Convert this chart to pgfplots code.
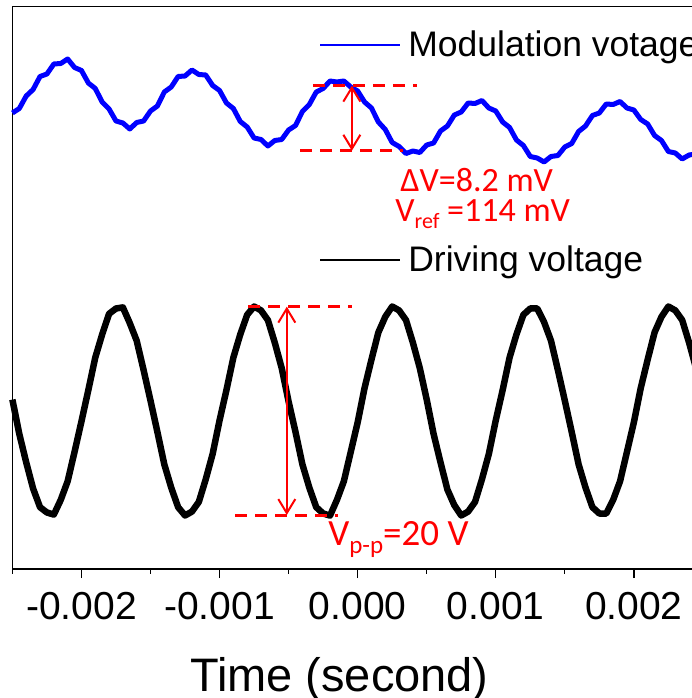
\documentclass[border=0pt]{standalone}
\usepackage{pgfplots}
\pgfplotsset{compat=1.18}
\usepackage{pgfplotstable}
\usetikzlibrary{arrows.meta}
\usepackage{fontspec}
\setmainfont{Liberation Sans}
\newfontfamily\calfont{Carlito}
\pgfplotstableread{
t mod drv
-0.00250 456 169.4
-0.00245 460.5 135
-0.00240 473 106.6
-0.00235 479.5 80.4
-0.00230 492.5 61.8
-0.00225 495 56.5
-0.00220 505 54.4
-0.00215 505.5 69.1
-0.00210 510 87.7
-0.00205 501.5 117.1
-0.00200 498.5 147.6
-0.00195 486 179
-0.00190 480.5 211.4
-0.00185 467 234.6
-0.00180 460 255.2
-0.00175 448 260.5
-0.00170 446 261.6
-0.00165 440 245.9
-0.00160 446.5 228.3
-0.00155 448 198.9
-0.00150 458 168.4
-0.00145 463 137
-0.00140 477 104.6
-0.00135 482 81.4
-0.00130 492.5 61.8
-0.00125 493 53.5
-0.00120 499 57.4
-0.00115 494.5 67.1
-0.00110 494 89.7
-0.00105 483.5 115.1
-0.00100 478.5 148.6
-0.00095 466 179
-0.00090 460.5 211.4
-0.00085 447.5 234.6
-0.00080 442 254.2
-0.00075 431 262.5
-0.00070 429.5 258.6
-0.00065 423 248.9
-0.00060 428.5 226.3
-0.00055 429.5 200.9
-0.00050 439 167.4
-0.00045 443.5 137
-0.00040 457.5 104.6
-0.00035 464.5 81.4
-0.00030 477 61.8
-0.00025 480.5 55.5
-0.00020 488 53.4
-0.00015 487 69.1
-0.00010 488 87.7
-0.00005 482 117.1
0.00000 478 146.6
0.00005 467 181
0.00010 461 209.4
0.00015 447 236.6
0.00020 439.5 252.2
0.00025 426.5 262.5
0.00030 422.5 258.6
0.00035 415.5 248.9
0.00040 418 226.3
0.00045 416.5 200.9
0.00050 424 169.4
0.00055 426 135
0.00060 438 106.6
0.00065 443 79.4
0.00070 454 63.8
0.00075 457 53.5
0.00080 466 57.4
0.00085 465.5 67.1
0.00090 468.5 89.7
0.00095 461 115.1
0.00100 458 148.6
0.00105 447 179
0.00110 441.5 211.4
0.00115 429 234.6
0.00120 423.5 254.2
0.00125 412.5 260.5
0.00130 411 260.6
0.00135 407 246.9
0.00140 412.5 228.3
0.00145 413.5 198.9
0.00150 422 168.4
0.00155 425.5 137
0.00160 437.5 104.6
0.00165 443 81.4
0.00170 453.5 61.8
0.00175 456 55.5
0.00180 465 55.4
0.00185 464.5 69.1
0.00190 467.5 87.7
0.00195 461 117.1
0.00200 459 146.6
0.00205 449.5 181
0.00210 445 209.4
0.00215 433.5 236.6
0.00220 428.5 252.2
0.00225 417.5 262.5
0.00230 416 258.6
0.00235 410 248.9
0.00240 414 226.3
0.00245 415 200.9
}\datatable
\begin{document}
\begin{tikzpicture}
\useasboundingbox (-12.4pt,-129pt) rectangle (679.6pt,569pt);
\clip (-12.4pt,-129pt) rectangle (679.6pt,569pt);
\begin{axis}[
  at={(0pt,0pt)}, anchor=south west, scale only axis,
  width=690.5pt, height=562.3pt,
  xmin=-0.0025, xmax=0.0025, ymin=0, ymax=562.3,
  scaled x ticks=false,
  xtick={-0.002,-0.001,0,0.001,0.002},
  xticklabels={-0.002,-0.001,0.000,0.001,0.002},
  minor xtick={-0.0025,-0.0015,-0.0005,0.0005,0.0015,0.0025},
  ytick=\empty,
  xtick pos=lower, tick align=outside,
  major tick length=9pt, minor tick length=4.5pt,
  tick style={black, line width=1.3pt},
  axis line style={line width=1.5pt},
  xticklabel style={font=\fontsize{39}{39}\selectfont, anchor=base, yshift=-41pt},
  xlabel={Time (second)},
  xlabel style={font=\fontsize{47}{47}\selectfont, at={(axis description cs:0.4735,0)}, anchor=base, yshift=-122pt},
  clip=false,
]
\addplot[blue, line width=5pt, line join=round] table[x=t,y=mod] {\datatable};
\addplot[black, line width=6.5pt, line join=round] table[x=t,y=drv] {\datatable};
% legend entries
\draw[blue, line width=2pt] (axis cs:-0.0002715,524) -- (axis cs:0.0003077,524);
\node[anchor=base west, inner sep=0pt, font=\fontsize{35.5}{35.5}\selectfont] at (axis cs:0.0003657,512) {Modulation votage};
\draw[black, line width=2pt] (axis cs:-0.0002715,309) -- (axis cs:0.0003077,309);
\node[anchor=base west, inner sep=0pt, font=\fontsize{35.5}{35.5}\selectfont] at (axis cs:0.0003657,297) {Driving voltage};
% annotations
\draw[red, line width=3pt, dash pattern=on 12pt off 8pt] (axis cs:-0.000324,483.3) -- (axis cs:0.000429,483.3);
\draw[red, line width=3pt, dash pattern=on 12pt off 8pt] (axis cs:-0.000416,418.3) -- (axis cs:0.000329,418.3);
\draw[red, line width=2pt, {Straight Barb[length=14pt,width=17pt]}-{Straight Barb[length=14pt,width=17pt]}] (axis cs:-0.000042,483.3) -- (axis cs:-0.000042,418.3);
\draw[red, line width=3pt, dash pattern=on 12pt off 8pt] (axis cs:-0.000793,262.3) -- (axis cs:-0.000040,262.3);
\draw[red, line width=3pt, dash pattern=on 12pt off 8pt] (axis cs:-0.000887,54) -- (axis cs:-0.000141,54);
\draw[red, line width=2pt, {Straight Barb[length=14pt,width=17pt]}-{Straight Barb[length=14pt,width=17pt]}] (axis cs:-0.000513,262.3) -- (axis cs:-0.000513,54);
\node[anchor=base west, inner sep=0pt, red, font=\calfont\fontsize{34}{34}\selectfont] at (axis cs:0.000308,377) {ΔV=8.2 mV};
\node[anchor=base west, inner sep=0pt, red, font=\calfont\fontsize{34}{34}\selectfont] at (axis cs:0.000272,347) {V\raisebox{-7pt}{\fontsize{22}{22}\selectfont ref} =114 mV};
\node[anchor=base west, inner sep=0pt, red, font=\calfont\fontsize{37}{37}\selectfont] at (axis cs:-0.000214,24) {V\raisebox{-8pt}{\fontsize{25}{25}\selectfont p-p}=20 V};
\end{axis}
\end{tikzpicture}
\end{document}
